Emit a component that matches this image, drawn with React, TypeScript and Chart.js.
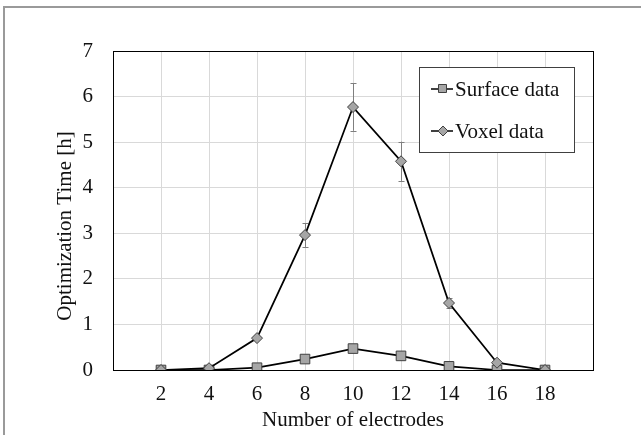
import React, { useEffect, useRef } from "react";
import { Chart, registerables } from "chart.js";

Chart.register(...registerables);

const electrodes = [2, 4, 6, 8, 10, 12, 14, 16, 18];
const surfaceData = [0, 0, 0.05, 0.24, 0.47, 0.31, 0.08, 0, 0];
const voxelData = [0, 0.04, 0.7, 2.96, 5.77, 4.58, 1.47, 0.16, 0];
const voxelError = [0, 0, 0, 0.26, 0.52, 0.43, 0.12, 0, 0];
const surfaceLabel = "Surface data";
const voxelLabel = "Voxel data";
const xTitle = "Number of electrodes";
const yTitle = "Optimization Time [h]";

const FONT = "'Liberation Serif', 'Times New Roman', serif";
const FONT_SIZE = 21;
const TEXT_COLOR = "#111";
const MARKER_FILL = "#a6a6a6";
const MARKER_STROKE = "#404040";

const errorBarPlugin = {
  id: "errorBars",
  beforeDatasetsDraw(chart: any) {
    const { ctx, scales } = chart;
    const meta = chart.getDatasetMeta(0);
    ctx.save();
    ctx.strokeStyle = "#7f7f7f";
    ctx.lineWidth = 1;
    meta.data.forEach((pt: any, i: number) => {
      const e = voxelError[i];
      if (!e) return;
      const x = Math.round(pt.x) + 0.5;
      const yTop = scales.y.getPixelForValue(voxelData[i] + e);
      const yBot = scales.y.getPixelForValue(voxelData[i] - e);
      ctx.beginPath();
      ctx.moveTo(x, yTop);
      ctx.lineTo(x, yBot);
      ctx.moveTo(x - 3, Math.round(yTop) + 0.5);
      ctx.lineTo(x + 3, Math.round(yTop) + 0.5);
      ctx.moveTo(x - 3, Math.round(yBot) + 0.5);
      ctx.lineTo(x + 3, Math.round(yBot) + 0.5);
      ctx.stroke();
    });
    ctx.restore();
  },
};

const frameAndTextPlugin = {
  id: "frameAndText",
  beforeDatasetsDraw(chart: any) {
    const { ctx, chartArea } = chart;
    ctx.save();
    ctx.strokeStyle = "#000";
    ctx.lineWidth = 1;
    ctx.strokeRect(
      Math.round(chartArea.left) + 0.5,
      Math.round(chartArea.top) + 0.5,
      Math.round(chartArea.right - chartArea.left),
      Math.round(chartArea.bottom - chartArea.top)
    );
    ctx.restore();
  },
  afterDraw(chart: any) {
    const { ctx } = chart;
    ctx.save();
    // Y axis title
    ctx.translate(65, 226);
    ctx.rotate(-Math.PI / 2);
    ctx.font = `${FONT_SIZE}px ${FONT}`;
    ctx.fillStyle = TEXT_COLOR;
    ctx.textAlign = "center";
    ctx.textBaseline = "middle";
    ctx.fillText(yTitle, 0, 0);
    ctx.restore();

    // Legend
    ctx.save();
    ctx.fillStyle = "#fff";
    ctx.fillRect(419.5, 67.5, 155, 85);
    ctx.strokeStyle = "#404040";
    ctx.lineWidth = 1;
    ctx.strokeRect(419.5, 67.5, 155, 85);
    const entries = [
      { label: surfaceLabel, y: 89, shape: "rect" },
      { label: voxelLabel, y: 131, shape: "diamond" },
    ];
    entries.forEach((en) => {
      ctx.strokeStyle = "#000";
      ctx.lineWidth = 1.5;
      ctx.beginPath();
      ctx.moveTo(431, en.y);
      ctx.lineTo(453, en.y);
      ctx.stroke();
      ctx.fillStyle = MARKER_FILL;
      ctx.strokeStyle = MARKER_STROKE;
      ctx.lineWidth = 1;
      ctx.beginPath();
      if (en.shape === "rect") {
        ctx.rect(438.5, en.y - 4.5, 8, 8);
      } else {
        ctx.moveTo(443, en.y - 5);
        ctx.lineTo(448, en.y);
        ctx.lineTo(443, en.y + 5);
        ctx.lineTo(438, en.y);
        ctx.closePath();
      }
      ctx.fill();
      ctx.stroke();
      ctx.fillStyle = TEXT_COLOR;
      ctx.font = `${FONT_SIZE}px ${FONT}`;
      ctx.textAlign = "left";
      ctx.textBaseline = "middle";
      ctx.fillText(en.label, 455, en.y + 1);
    });
    ctx.restore();
  },
};

export default function App() {
  const canvasRef = useRef<HTMLCanvasElement | null>(null);

  useEffect(() => {
    if (!canvasRef.current) return;
    const chart = new Chart(canvasRef.current, {
      type: "line",
      data: {
        datasets: [
          {
            label: voxelLabel,
            data: electrodes.map((x, i) => ({ x, y: voxelData[i] })),
            borderColor: "#000",
            borderWidth: 1.75,
            pointStyle: "rectRot",
            pointRadius: 5.5,
            pointBackgroundColor: MARKER_FILL,
            pointBorderColor: MARKER_STROKE,
            pointBorderWidth: 1,
            tension: 0,
          },
          {
            label: surfaceLabel,
            data: electrodes.map((x, i) => ({ x, y: surfaceData[i] })),
            borderColor: "#000",
            borderWidth: 1.75,
            pointStyle: "rect",
            pointRadius: 6.8,
            pointBackgroundColor: MARKER_FILL,
            pointBorderColor: MARKER_STROKE,
            pointBorderWidth: 1,
            tension: 0,
          },
        ],
      },
      options: {
        responsive: false,
        animation: false,
        events: [],
        layout: { padding: { left: 0, top: 51, right: 48, bottom: 0 } },
        plugins: {
          legend: { display: false },
          tooltip: { enabled: false },
        },
        scales: {
          x: {
            type: "linear",
            min: 0,
            max: 20,
            afterFit: (s: any) => {
              s.height = 65;
            },
            border: { display: false },
            grid: { color: "#d9d9d9", lineWidth: 1, drawTicks: false },
            ticks: {
              stepSize: 2,
              padding: 12,
              color: TEXT_COLOR,
              font: { family: FONT, size: FONT_SIZE },
              callback: (v: any) => (v === 0 || v === 20 ? "" : String(v)),
            },
            title: {
              display: true,
              text: xTitle,
              color: TEXT_COLOR,
              font: { family: FONT, size: FONT_SIZE },
              padding: { top: 0, bottom: 2 },
            },
          },
          y: {
            min: 0,
            max: 7,
            afterFit: (s: any) => {
              s.width = 113;
            },
            border: { display: false },
            grid: { color: "#d9d9d9", lineWidth: 1, drawTicks: false },
            ticks: {
              stepSize: 1,
              padding: 20,
              color: TEXT_COLOR,
              font: { family: FONT, size: FONT_SIZE },
            },
          },
        },
      },
      plugins: [errorBarPlugin, frameAndTextPlugin],
    });
    return () => chart.destroy();
  }, []);

  return (
    <div
      style={{
        position: "fixed",
        left: 0,
        top: 0,
        width: 641,
        height: 435,
        background: "#fff",
        overflow: "hidden",
      }}
    >
      <div
        style={{
          position: "absolute",
          left: 3,
          top: 6,
          width: 700,
          height: 500,
          borderTop: "2px solid #9a9a9a",
          borderLeft: "2px solid #9a9a9a",
          boxSizing: "border-box",
        }}
      />
      <canvas
        ref={canvasRef}
        width={641}
        height={435}
        style={{ position: "absolute", left: 0, top: 0 }}
      />
    </div>
  );
}
